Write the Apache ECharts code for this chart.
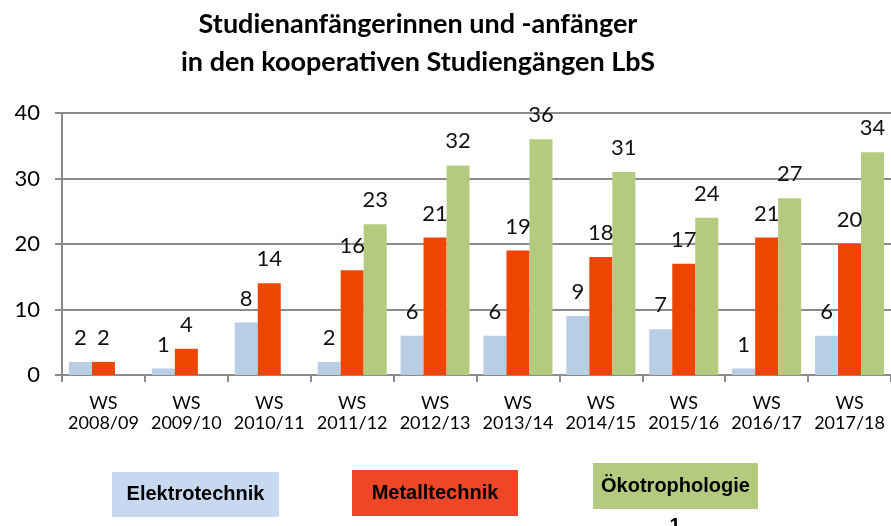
<!DOCTYPE html>
<html>
<head>
<meta charset="utf-8">
<script src="https://cdn.jsdelivr.net/npm/echarts@6/dist/echarts.min.js"></script>
<style>
  html, body { margin: 0; padding: 0; background: #fff; }
  #chart { width: 891px; height: 526px; }
</style>
</head>
<body>
<div id="chart"></div>
<script>
const semesters = ['2008/09', '2009/10', '2010/11', '2011/12', '2012/13', '2013/14', '2014/15', '2015/16', '2016/17', '2017/18']
const elektro = [2, 1, 8, 2, 6, 6, 9, 7, 1, 6]
const metall = [2, 4, 14, 16, 21, 19, 18, 17, 21, 20]
const oeko = [null, null, null, 23, 32, 36, 31, 24, 27, 34]
const seriesNames = ['Elektrotechnik', 'Metalltechnik', 'Ökotrophologie']

const barColors = ['#B9CDE5', '#EE4602', '#B3CA7F']
const legendColors = ['#C6D9F0', '#F04628', '#B3CA7F']
const numFont = 'Lato, "Open Sans", sans-serif'
const legendFont = 'bold 20px "Liberation Sans", Arial, sans-serif'

const chart = echarts.init(document.getElementById('chart'), null, { renderer: 'canvas' })

const makeBar = (name, data, i) => ({
  name,
  type: 'bar',
  data,
  barWidth: 23,
  barGap: '0%',
  itemStyle: { color: barColors[i] },
  label: {
    show: true,
    position: 'top',
    distance: 13,
    color: '#111',
    fontFamily: numFont,
    fontSize: 22,
  },
})

// legend boxes drawn as graphic, text centred inside each coloured box
const legendBoxes = [
  { x: 112, y: 472, w: 167, h: 45 },
  { x: 352, y: 470, w: 166, h: 46 },
  { x: 593, y: 463, w: 165, h: 46 },
]

chart.setOption({
  animation: false,
  title: {
    text: 'Studienanfängerinnen und -anfänger\nin den kooperativen Studiengängen LbS',
    left: 418,
    top: 5,
    padding: 0,
    textAlign: 'center',
    textStyle: {
      fontFamily: numFont,
      fontWeight: 'bold',
      fontSize: 27,
      lineHeight: 38,
      color: '#000',
    },
  },
  grid: { left: 62, right: -4, top: 113, bottom: 151, containLabel: false },
  xAxis: {
    type: 'category',
    data: semesters.map((s) => 'WS\n' + s),
    axisLine: { lineStyle: { color: '#8C8C8C', width: 2 } },
    axisTick: { show: true, length: 7, lineStyle: { color: '#8C8C8C', width: 2 } },
    axisLabel: {
      color: '#000',
      fontFamily: numFont,
      fontSize: 18,
      lineHeight: 20,
      margin: 18,
      interval: 0,
    },
  },
  yAxis: {
    type: 'value',
    min: 0,
    max: 40,
    interval: 10,
    axisLine: { show: true, lineStyle: { color: '#8C8C8C', width: 2 } },
    axisTick: { show: true, length: 7, lineStyle: { color: '#8C8C8C', width: 2 } },
    splitLine: { lineStyle: { color: '#8C8C8C', width: 2 } },
    axisLabel: { color: '#000', fontFamily: numFont, fontSize: 22, margin: 22 },
  },
  series: [
    makeBar(seriesNames[0], elektro, 0),
    makeBar(seriesNames[1], metall, 1),
    makeBar(seriesNames[2], oeko, 2),
  ],
  graphic: legendBoxes.map((b, i) => ({
    type: 'group',
    x: b.x,
    y: b.y,
    children: [
      { type: 'rect', shape: { x: 0, y: 0, width: b.w, height: b.h }, style: { fill: legendColors[i] } },
      {
        type: 'text',
        x: b.w / 2,
        y: b.h / 2,
        style: {
          text: seriesNames[i],
          fill: '#000',
          font: legendFont,
          textAlign: 'center',
          textVerticalAlign: 'middle',
        },
      },
    ],
  })).concat([{
    type: 'text',
    x: 675,
    y: 526,
    style: {
      text: '1',
      fill: '#000',
      font: legendFont,
      textAlign: 'center',
      textVerticalAlign: 'middle',
    },
  }]),
})
</script>
</body>
</html>
